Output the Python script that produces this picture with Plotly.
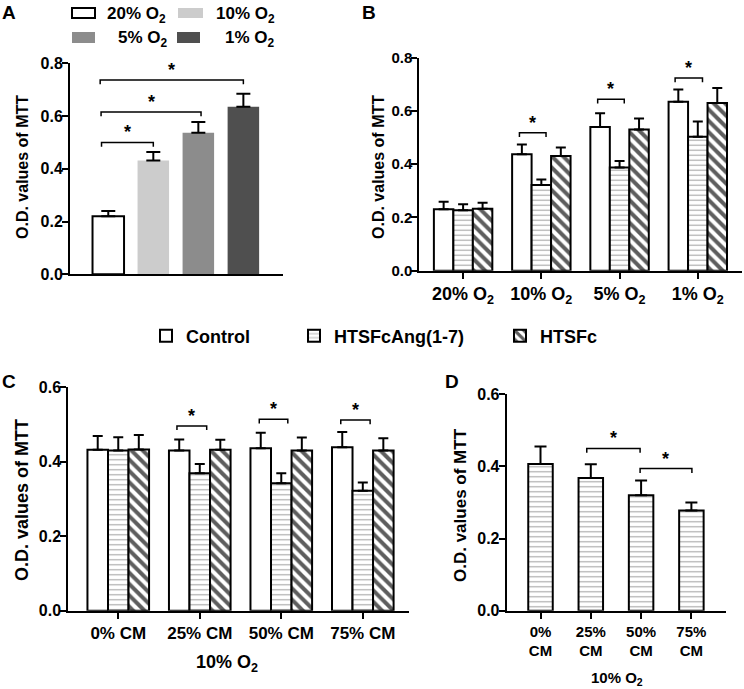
import plotly.graph_objects as go

W, H = 744, 689
FONT = "Liberation Sans, Arial, sans-serif"

# ---------------- Data ----------------
# Panel A
a_labels = ["20% O<sub>2</sub>", "10% O<sub>2</sub>", "5% O<sub>2</sub>", "1% O<sub>2</sub>"]
a_values = [0.220, 0.431, 0.537, 0.635]
a_errors = [0.020, 0.033, 0.040, 0.050]
a_colors = ["#ffffff", "#cccccc", "#8c8c8c", "#4f4f4f"]
a_brackets = [(-0.15, 1.0, 0.50), (-0.16, 2.06, 0.615), (-0.18, 3.0, 0.737)]

# Panel B
b_cats = ["20% O<sub>2</sub>", "10% O<sub>2</sub>", "5% O<sub>2</sub>", "1% O<sub>2</sub>"]
b_control = [0.231, 0.437, 0.540, 0.635]
b_control_err = [0.028, 0.037, 0.051, 0.046]
b_ang = [0.227, 0.322, 0.388, 0.503]
b_ang_err = [0.023, 0.021, 0.024, 0.057]
b_htsfc = [0.233, 0.431, 0.530, 0.630]
b_htsfc_err = [0.022, 0.032, 0.042, 0.056]
b_brackets = [(0.72, 1.06, 0.518), (1.72, 2.06, 0.644), (2.71, 3.06, 0.724)]

# Panel C
c_cats = ["0% CM", "25% CM", "50% CM", "75% CM"]
c_control = [0.432, 0.430, 0.436, 0.439]
c_control_err = [0.037, 0.030, 0.042, 0.041]
c_ang = [0.430, 0.369, 0.342, 0.322]
c_ang_err = [0.036, 0.025, 0.027, 0.022]
c_htsfc = [0.433, 0.432, 0.430, 0.430]
c_htsfc_err = [0.039, 0.027, 0.035, 0.033]
c_brackets = [(0.72, 1.085, 0.496), (1.73, 2.08, 0.514), (2.73, 3.09, 0.512)]

# Panel D
d_cats = ["0%<br>CM", "25%<br>CM", "50%<br>CM", "75%<br>CM"]
d_values = [0.407, 0.368, 0.320, 0.278]
d_errors = [0.048, 0.038, 0.041, 0.022]
d_brackets = [(0.92, 1.98, 0.450), (1.98, 3.01, 0.394)]

series_names = ["Control", "HTSFcAng(1-7)", "HTSFc"]
y_ticks_08 = [0.0, 0.2, 0.4, 0.6, 0.8]
y_ticks_06 = [0.0, 0.2, 0.4, 0.6]

# ---------------- Styles ----------------
ANG_PATTERN = dict(shape="-", fgcolor="#a8a8a8", bgcolor="white", size=5, solidity=0.22)
HTS_PATTERN = dict(shape="\\", fgcolor="#5e5e5e", bgcolor="white", size=8, solidity=0.5)
NO_PATTERN = dict(shape="")


def b(t):
    return f"<b>{t}</b>"


def err(arr, w):
    return dict(type="data", array=arr, arrayminus=[0] * len(arr), symmetric=False,
                color="black", thickness=2, width=w)


fig = go.Figure()

# Panel A
fig.add_trace(go.Bar(
    x=list(range(len(a_values))), y=a_values, width=0.7,
    marker=dict(color=a_colors, line=dict(color="black", width=[2, 0, 0, 0])),
    error_y=err(a_errors, 7), showlegend=False, xaxis="x", yaxis="y"))

legend_ids = ["legend", "legend2", "legend3"]


def grouped(vals_list, errs_list, xa, ya, width, show, cap):
    pats = [NO_PATTERN, ANG_PATTERN, HTS_PATTERN]
    for i, (vals, errs) in enumerate(zip(vals_list, errs_list)):
        fig.add_trace(go.Bar(
            x=list(range(len(vals))), y=vals, width=width, offset=(i - 1.5) * width,
            name=b(series_names[i]), legend=legend_ids[i],
            marker=dict(color="white", line=dict(color="black", width=2), pattern=pats[i]),
            error_y=err(errs, cap), showlegend=show, xaxis=xa, yaxis=ya))


grouped([b_control, b_ang, b_htsfc], [b_control_err, b_ang_err, b_htsfc_err],
        "x2", "y2", 0.249, True, 5)
grouped([c_control, c_ang, c_htsfc], [c_control_err, c_ang_err, c_htsfc_err],
        "x3", "y3", 0.252, False, 5)

# Panel D
fig.add_trace(go.Bar(
    x=list(range(len(d_values))), y=d_values, width=0.487,
    marker=dict(color="white", line=dict(color="black", width=2), pattern=ANG_PATTERN),
    error_y=err(d_errors, 6), showlegend=False, xaxis="x4", yaxis="y4"))


# ---------------- Axes ----------------
def px_x(p):
    return p / W


def px_y(p):
    return 1 - p / H


def yax(domain, rng, anchor, size, ticks):
    return dict(domain=domain, range=rng, anchor=anchor,
                tickvals=ticks, ticktext=[b(f"{t:.1f}") for t in ticks],
                ticks="outside", ticklen=6, tickwidth=2, tickcolor="black",
                ticklabelstandoff=-4,
                showline=True, linewidth=2, linecolor="black", showgrid=False, zeroline=False,
                automargin=False,
                tickfont=dict(family=FONT, size=size, color="black"))


def xax(domain, rng, anchor, ticks, labels, size):
    d = dict(domain=domain, range=rng, anchor=anchor, showline=True, linewidth=2,
             linecolor="black", showgrid=False, zeroline=False, automargin=False,
             tickfont=dict(family=FONT, size=size, color="black"))
    if ticks:
        d.update(tickvals=list(range(len(labels))), ticktext=[b(l) for l in labels],
                 ticks="outside", ticklen=6, tickwidth=2, tickcolor="black")
    else:
        d.update(showticklabels=False, ticks="")
    return d


fig.update_layout(
    xaxis=xax([px_x(70), px_x(283)], [-0.85, 3.88], "y", False, a_labels, 16),
    yaxis=yax([px_y(274.3), px_y(63.3)], [0, 0.8], "x", 16, y_ticks_08),
    xaxis2=xax([px_x(419.3), px_x(742)], [-0.56, 3.565], "y2", True, b_cats, 18),
    yaxis2=yax([px_y(270.7), px_y(57.7)], [0, 0.8], "x2", 15, y_ticks_08),
    xaxis3=xax([px_x(68.3), px_x(409)], [-0.613, 3.567], "y3", True, c_cats, 17),
    yaxis3=yax([px_y(610.7), px_y(387.3)], [0, 0.6], "x3", 16, y_ticks_06),
    xaxis4=xax([px_x(506.7), px_x(726)], [-0.672, 3.688], "y4", True, d_cats, 15),
    yaxis4=yax([px_y(610.7), px_y(394.3)], [0, 0.6], "x4", 16, y_ticks_06),
)

shapes = []
annotations = []


def brackets(lst, xa, ya, h):
    for x0, x1, y in lst:
        shapes.append(dict(type="path", xref=xa, yref=ya,
                           path=f"M {x0},{y - h} L {x0},{y} L {x1},{y} L {x1},{y - h}",
                           line=dict(color="black", width=1.5)))
        annotations.append(dict(x=(x0 + x1) / 2, y=y, xref=xa, yref=ya, text=b("*"),
                                showarrow=False, yanchor="bottom", yshift=-2,
                                font=dict(family=FONT, size=18, color="black")))


brackets(a_brackets, "x", "y", 0.016)
brackets(b_brackets, "x2", "y2", 0.016)
brackets(c_brackets, "x3", "y3", 0.011)
brackets(d_brackets, "x4", "y4", 0.012)


def label(text, x, y, size, angle=0, xanchor="center"):
    annotations.append(dict(x=px_x(x), y=px_y(y), xref="paper", yref="paper", text=b(text),
                            showarrow=False, textangle=angle, xanchor=xanchor, yanchor="middle",
                            font=dict(family=FONT, size=size, color="black")))


# panel letters
label("A", 9, 13, 19)
label("B", 369, 13, 19)
label("C", 9, 381, 19)
label("D", 452, 381, 19)

# y titles
label("O.D. values of MTT", 22, 167, 16, -90)
label("O.D. values of MTT", 378, 167, 16, -90)
label("O.D. values of MTT", 22, 500, 18, -90)
label("O.D. values of MTT", 460, 505, 17, -90)

# x titles
label("10% O<sub>2</sub>", 227, 663, 18)
label("10% O<sub>2</sub>", 617, 678, 15)

# Panel A manual legend
a_leg_boxes = [(72, 95, 8, 18), (178, 203, 8, 18), (72, 95, 32, 43), (177, 200, 32, 43)]
a_leg_text_right = [(168, 15), (277, 15), (170, 39), (277, 39)]
for i, ((x0, x1, y0, y1), (tx, ty)) in enumerate(zip(a_leg_boxes, a_leg_text_right)):
    shapes.append(dict(type="rect", xref="paper", yref="paper",
                       x0=px_x(x0), x1=px_x(x1), y0=px_y(y1), y1=px_y(y0),
                       fillcolor=a_colors[i],
                       line=dict(color="black" if i == 0 else a_colors[i], width=2 if i == 0 else 0)))
    label(a_labels[i], tx, ty, 17, 0, "right")


def leg(xpx):
    return dict(orientation="h", x=px_x(xpx), y=px_y(336), xanchor="left", yanchor="middle",
                font=dict(family=FONT, size=18, color="black"), itemclick=False,
                bgcolor="rgba(0,0,0,0)", borderwidth=0)


fig.update_layout(
    template="none",
    width=W, height=H, autosize=False,
    margin=dict(l=0, r=0, t=0, b=0, pad=0),
    paper_bgcolor="white", plot_bgcolor="white",
    barmode="overlay",
    shapes=shapes, annotations=annotations,
    legend=leg(146), legend2=leg(294), legend3=leg(500),
    font=dict(family=FONT, color="black"),
)

fig.write_html("out.html", config={"displayModeBar": False},
               post_script="document.body.style.margin='0';document.body.style.overflow='hidden';")
